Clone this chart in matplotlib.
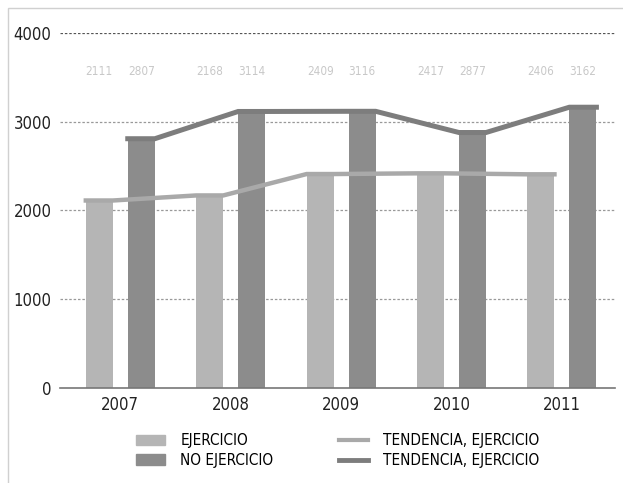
import matplotlib.pyplot as plt
from matplotlib.patches import Patch, Rectangle
from matplotlib.lines import Line2D

plt.rcParams["font.family"] = ["DejaVu Sans"]
plt.rcParams["font.stretch"] = "condensed"

years = ["2007", "2008", "2009", "2010", "2011"]
ejercicio = [2111, 2168, 2409, 2417, 2406]
no_ejercicio = [2807, 3114, 3116, 2877, 3162]
yticks = [0, 1000, 2000, 3000, 4000]

light = "#b5b5b5"
dark = "#8c8c8c"
light_line = "#a9a9a9"
dark_line = "#7d7d7d"

fig = plt.figure(figsize=(6.23, 4.83), dpi=100)
ax = fig.add_axes([0.096, 0.197, 0.891, 0.735])

w = 0.245
off = 0.19
xs = list(range(len(years)))
x_light = [x - off for x in xs]
x_dark = [x + off for x in xs]

ax.bar(x_light, ejercicio, width=w, color=light, zorder=2)
ax.bar(x_dark, no_ejercicio, width=w, color=dark, zorder=2)

# trend lines run along the bar tops
def edge_line(xc, vals):
    px, py = [], []
    for x, v in zip(xc, vals):
        px += [x - w / 2, x + w / 2]
        py += [v, v]
    return px, py

lx, ly = edge_line(x_light, ejercicio)
dx, dy = edge_line(x_dark, no_ejercicio)
ax.plot(lx, ly, color=light_line, lw=3.2, zorder=3, solid_joinstyle="miter")
ax.plot(dx, dy, color=dark_line, lw=3.6, zorder=3, solid_joinstyle="miter")

# faint value labels
for x, v in zip(x_light, ejercicio):
    ax.text(x, 3560, str(v), ha="center", va="center", fontsize=8.5, color="#c8c8c8")
for x, v in zip(x_dark, no_ejercicio):
    ax.text(x, 3560, str(v), ha="center", va="center", fontsize=8.5, color="#c8c8c8")

ax.set_xlim(-0.548, 4.48)
ax.set_ylim(0, 4000)
ax.set_yticks(yticks)
ax.set_yticklabels([str(t) for t in yticks], fontsize=12, color="#222222")
ax.set_xticks(xs)
ax.set_xticklabels(years, fontsize=12, color="#222222")
ax.tick_params(length=0, pad=6)

for t in yticks[1:]:
    c = "#555555" if t == 4000 else "#999999"
    ax.axhline(t, color=c, lw=0.9, ls=(0, (2, 1.5)), zorder=1)

for s in ["top", "right", "left"]:
    ax.spines[s].set_visible(False)
ax.spines["bottom"].set_color("#777777")
ax.spines["bottom"].set_linewidth(1.2)

handles = [
    Patch(color=light),
    Patch(color=dark),
    Line2D([], [], color=light_line, lw=3),
    Line2D([], [], color=dark_line, lw=3.5),
]
labels = ["EJERCICIO", "NO EJERCICIO", "TENDENCIA, EJERCICIO", "TENDENCIA, EJERCICIO"]
fig.legend(handles, labels, ncol=2, loc="center", bbox_to_anchor=(0.542, 0.067),
           frameon=False, fontsize=11, columnspacing=4.3, handlelength=1.9,
           labelspacing=0.3, handletextpad=1.0)

# thin frame around the picture
fig.patches.append(Rectangle((0.013, -0.01), 0.99, 0.993, transform=fig.transFigure,
                             fill=False, edgecolor="#d0d0d0", lw=1))

fig.savefig("out.png", dpi=100)
